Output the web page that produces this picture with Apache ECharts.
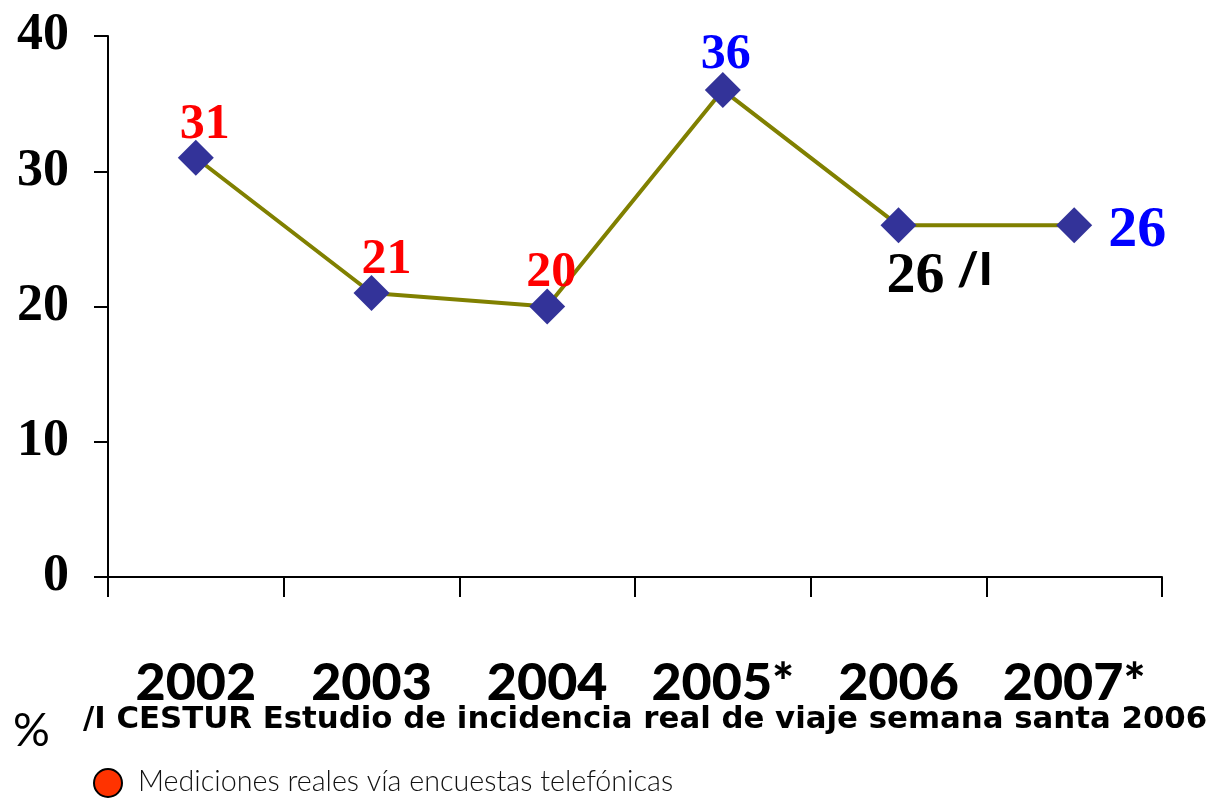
<!DOCTYPE html>
<html>
<head>
<meta charset="utf-8">
<script src="https://cdn.jsdelivr.net/npm/echarts@6/dist/echarts.min.js"></script>
<style>
  html, body { margin: 0; padding: 0; background: #fff; }
  #chart { width: 1213px; height: 799px; }
</style>
</head>
<body>
<div id="chart"></div>
<script>
// datos del gráfico
const years = ['2002', '2003', '2004', '2005*', '2006', '2007*'];
const values = [31, 21, 20, 36, 26, 26];
const yTicks = [0, 10, 20, 30, 40];
const footnote = '/I CESTUR Estudio de incidencia real de viaje semana santa 2006';
const legendText = 'Mediciones reales vía encuestas telefónicas';

const chart = echarts.init(document.getElementById('chart'));

// estilo de etiqueta para cada punto
const labelStyles = [
  { position: 'top', distance: 2, offset: [9, 12], color: '#ff0000' },
  { position: 'top', distance: 2, offset: [15, 12], color: '#ff0000' },
  { position: 'top', distance: 2, offset: [4, 12], color: '#ff0000' },
  { position: 'top', distance: 2, offset: [3, 10], color: '#0000ff' },
  { position: 'bottom', distance: 0, offset: [41, 4], color: '#000', rich: true },
  { position: 'right', distance: 16, offset: [0, 6], color: '#0000ff', fontSize: 58 }
];

const seriesData = values.map((v, i) => {
  const s = labelStyles[i];
  const label = {
    show: true,
    position: s.position,
    distance: s.distance,
    offset: s.offset,
    color: s.color,
    fontFamily: '"Liberation Serif", serif',
    fontWeight: 'bold',
    fontSize: s.fontSize || 50
  };
  if (s.rich) {
    label.formatter = '{a|{c}} {b|/I}';
    label.rich = {
      a: { fontFamily: '"Liberation Serif", serif', fontWeight: 'bold', fontSize: 58, color: '#000' },
      b: { fontFamily: 'Lato, sans-serif', fontWeight: 900, fontSize: 46, color: '#000', verticalAlign: 'top', padding: [0, 0, 14, 0] }
    };
  }
  return { value: v, label };
});

const option = {
  animation: false,
  grid: { left: 108, right: 51, top: 36, bottom: 222, containLabel: false },
  xAxis: {
    type: 'category',
    data: years,
    boundaryGap: true,
    axisLine: { lineStyle: { color: '#000', width: 2 } },
    axisTick: { show: true, length: 20, lineStyle: { color: '#000', width: 2 } },
    axisLabel: {
      margin: 80,
      color: '#000',
      fontFamily: 'Lato, sans-serif',
      fontWeight: 900,
      fontSize: 52,
      interval: 0
    },
    splitLine: { show: false }
  },
  yAxis: {
    type: 'value',
    min: yTicks[0],
    max: yTicks[yTicks.length - 1],
    interval: 10,
    axisLine: { show: true, lineStyle: { color: '#000', width: 2 } },
    axisTick: { show: true, length: 14, lineStyle: { color: '#000', width: 2 } },
    axisLabel: {
      margin: 39,
      color: '#000',
      fontFamily: '"Liberation Serif", serif',
      fontWeight: 'bold',
      fontSize: 52
    },
    splitLine: { show: false }
  },
  series: [
    {
      type: 'line',
      data: seriesData,
      symbol: 'diamond',
      symbolSize: 36,
      itemStyle: { color: '#333399' },
      lineStyle: { color: '#808000', width: 4 },
      z: 3
    }
  ],
  graphic: [
    {
      type: 'text',
      left: 83, top: 704,
      style: { text: footnote, font: 'bold 30.8px "DejaVu Sans", sans-serif', fill: '#000' }
    },
    {
      type: 'text',
      left: 13, top: 708,
      style: { text: '%', font: '46px Lato, sans-serif', fill: '#000' }
    },
    {
      type: 'circle',
      shape: { cx: 108, cy: 783, r: 14 },
      style: { fill: '#ff3300', stroke: '#000', lineWidth: 2 }
    },
    {
      type: 'text',
      left: 138, top: 767,
      style: { text: legendText, font: '300 28.7px Lato, sans-serif', fill: '#111' }
    }
  ]
};

chart.setOption(option);
window.onresize = () => chart.resize();
</script>
</body>
</html>
